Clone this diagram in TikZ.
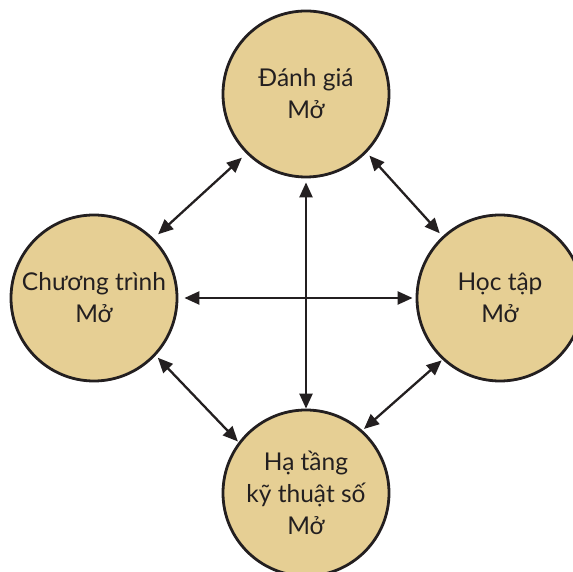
\documentclass[tikz,border=0pt]{standalone}
\usepackage{fontspec}
\setmainfont{Lato}
\usetikzlibrary{arrows.meta}
\definecolor{tanfill}{HTML}{E6CF94}
\definecolor{ink}{HTML}{231F20}
\begin{document}
\begin{tikzpicture}[x=1pt,y=1pt,
  bub/.style={circle, draw=ink, line width=2.8pt, fill=tanfill, minimum size=166pt, inner sep=0pt, align=center, font=\fontsize{24.5}{32}\selectfont, text=ink},
  link/.style={{Triangle[length=15pt,width=13pt]}-{Triangle[length=15pt,width=13pt]}, line width=2.3pt, draw=ink}]
\useasboundingbox (0,0) rectangle (572,572);
\node[bub] (dg) at (306,478) {Đánh giá\\Mở};
\node[bub] (ct) at (94,274) {Chương trình\\Mở};
\node[bub] (ht) at (500,274) {Học tập\\Mở};
\node[bub] (hk) at (306,79) {Hạ tầng\\kỹ thuật số\\Mở};
\draw[link, shorten <=6pt, shorten >=6pt] (dg.225) -- (ct.45);
\draw[link, shorten <=4pt, shorten >=4pt] (dg.-44) -- (ht.133);
\draw[link, shorten <=6pt, shorten >=3pt] (ct.0) -- (ht.180);
\draw[link, shorten <=4pt, shorten >=0pt] (dg.270) -- (hk.90);
\draw[link, shorten <=3pt, shorten >=1pt] (ct.-43) -- (hk.143);
\draw[link, shorten <=1pt, shorten >=2pt] (ht.227) -- (hk.48);
\end{tikzpicture}
\end{document}
